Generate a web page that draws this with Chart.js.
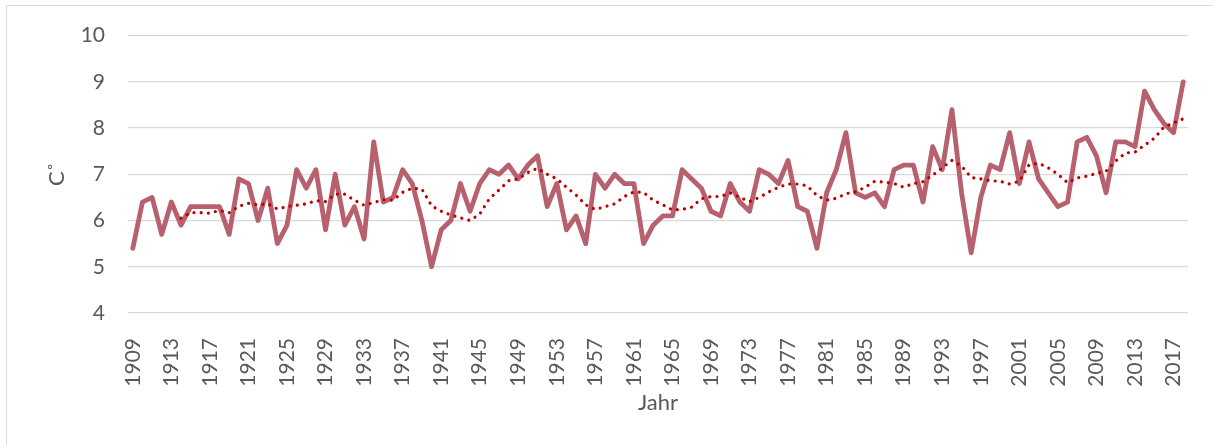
<!DOCTYPE html>
<html>
<head>
<meta charset="utf-8">
<script src="https://cdn.jsdelivr.net/npm/chart.js@4"></script>
<style>
  html, body { margin:0; padding:0; background:#fff; }
  #wrap { position:relative; width:1213px; height:445px; }
  #frame { position:absolute; left:6px; top:5px; right:0; bottom:0; border-left:1px solid #d9d9d9; border-top:1px solid #d9d9d9; pointer-events:none; }
  canvas { position:absolute; left:0; top:0; }
</style>
</head>
<body>
<div id="wrap">
  <canvas id="tempChart" width="1213" height="445"></canvas>
  <div id="frame"></div>
</div>
<script>
// Jahresmittel Temperatur
const jahre = [
  1909,1910,1911,1912,1913,1914,1915,1916,1917,1918,
  1919,1920,1921,1922,1923,1924,1925,1926,1927,1928,
  1929,1930,1931,1932,1933,1934,1935,1936,1937,1938,
  1939,1940,1941,1942,1943,1944,1945,1946,1947,1948,
  1949,1950,1951,1952,1953,1954,1955,1956,1957,1958,
  1959,1960,1961,1962,1963,1964,1965,1966,1967,1968,
  1969,1970,1971,1972,1973,1974,1975,1976,1977,1978,
  1979,1980,1981,1982,1983,1984,1985,1986,1987,1988,
  1989,1990,1991,1992,1993,1994,1995,1996,1997,1998,
  1999,2000,2001,2002,2003,2004,2005,2006,2007,2008,
  2009,2010,2011,2012,2013,2014,2015,2016,2017,2018
];

const temperatur = [
  5.4,6.4,6.5,5.7,6.4,5.9,6.3,6.3,6.3,6.3,
  5.7,6.9,6.8,6.0,6.7,5.5,5.9,7.1,6.7,7.1,
  5.8,7.0,5.9,6.3,5.6,7.7,6.4,6.5,7.1,6.8,
  6.0,5.0,5.8,6.0,6.8,6.2,6.8,7.1,7.0,7.2,
  6.9,7.2,7.4,6.3,6.8,5.8,6.1,5.5,7.0,6.7,
  7.0,6.8,6.8,5.5,5.9,6.1,6.1,7.1,6.9,6.7,
  6.2,6.1,6.8,6.4,6.2,7.1,7.0,6.8,7.3,6.3,
  6.2,5.4,6.6,7.1,7.9,6.6,6.5,6.6,6.3,7.1,
  7.2,7.2,6.4,7.6,7.1,8.4,6.6,5.3,6.5,7.2,
  7.1,7.9,6.8,7.7,6.9,6.6,6.3,6.4,7.7,7.8,
  7.4,6.6,7.7,7.7,7.6,8.8,8.4,8.1,7.9,9.0
];

const trend = [
  null,null,null,null,null,6.05,6.17,6.17,6.16,6.22,
  6.17,6.31,6.37,6.34,6.36,6.25,6.30,6.33,6.36,6.43,
  6.41,6.57,6.57,6.44,6.33,6.39,6.45,6.44,6.61,6.70,
  6.68,6.32,6.20,6.12,6.06,6.00,6.14,6.47,6.66,6.86,
  6.90,7.04,7.13,7.00,6.90,6.72,6.55,6.34,6.24,6.30,
  6.36,6.52,6.62,6.61,6.44,6.34,6.23,6.24,6.29,6.47,
  6.52,6.52,6.60,6.50,6.41,6.50,6.62,6.72,6.79,6.79,
  6.75,6.54,6.44,6.48,6.58,6.62,6.72,6.85,6.83,6.80,
  6.72,6.80,6.84,6.98,7.14,7.30,7.18,6.93,6.90,6.86,
  6.85,6.79,6.85,7.20,7.24,7.14,7.00,6.82,6.92,6.96,
  7.02,7.07,7.29,7.46,7.48,7.63,7.78,8.02,8.11,8.20
];

const yMin = 4, yMax = 10;
const grau = '#595959';
const schrift = 'Lato, "Open Sans", sans-serif';

const ctx = document.getElementById('tempChart').getContext('2d');
new Chart(ctx, {
  type: 'line',
  data: {
    labels: jahre,
    datasets: [
      {
        label: 'Temperatur',
        data: temperatur,
        borderColor: '#B7606E',
        borderWidth: 4.8,
        borderJoinStyle: 'round',
        borderCapStyle: 'round',
        pointRadius: 0,
        tension: 0,
        order: 1
      },
      {
        label: 'Gleitender Durchschnitt',
        data: trend,
        borderColor: '#C00000',
        borderWidth: 3.2,
        borderDash: [0.01, 7.2],
        borderCapStyle: 'round',
        pointRadius: 0,
        tension: 0,
        spanGaps: false,
        order: 0
      }
    ]
  },
  options: {
    responsive: false,
    animation: false,
    layout: { padding: { top: 34, right: 25, left: 0, bottom: 0 } },
    plugins: { legend: { display: false }, tooltip: { enabled: false } },
    scales: {
      x: {
        offset: true,
        grid: { display: false },
        border: { display: false },
        ticks: {
          autoSkip: false,
          minRotation: 90,
          maxRotation: 90,
          padding: 17,
          color: grau,
          font: { family: schrift, size: 21 },
          callback: function(v, i){ return i % 4 === 0 ? this.getLabelForValue(v) : ''; }
        },
        title: {
          display: true,
          text: 'Jahr',
          color: grau,
          font: { family: schrift, size: 22 },
          padding: { top: 0, bottom: 29 }
        },
        afterFit: (s) => { s.height = 132; s.paddingLeft = 0; s.paddingRight = 0; }
      },
      y: {
        min: yMin,
        max: yMax,
        grid: { color: '#d9d9d9', lineWidth: 1.3, drawTicks: false },
        border: { display: false },
        ticks: {
          stepSize: 1,
          padding: 23,
          color: grau,
          font: { family: schrift, size: 21 }
        },
        title: {
          display: true,
          text: 'C˚',
          color: grau,
          font: { family: schrift, size: 22 },
          padding: { top: 44, bottom: 0 }
        },
        afterFit: (s) => { s.width = 128; }
      }
    }
  }
});
</script>
</body>
</html>
